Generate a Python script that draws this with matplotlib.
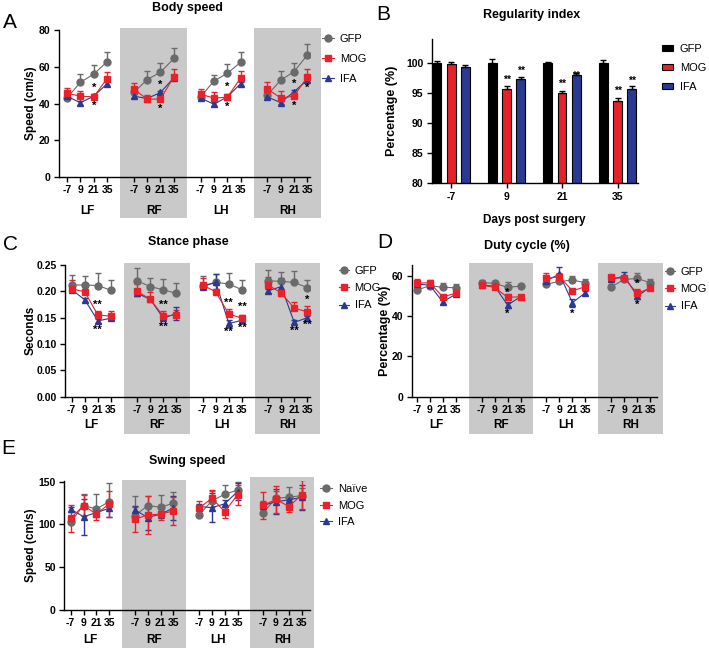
import matplotlib
matplotlib.use('Agg')
import matplotlib.pyplot as plt
from matplotlib.patches import Rectangle, Patch
from matplotlib.lines import Line2D
import matplotlib.transforms as mtransforms
import numpy as np

plt.rcParams['font.family'] = ['Liberation Sans', 'DejaVu Sans']

# ---------------- data ----------------
days = ['-7', '9', '21', '35']
limbs = ['LF', 'RF', 'LH', 'RH']
series_names = ['GFP', 'MOG', 'IFA']
series_names_E = ['Naïve', 'MOG', 'IFA']

# Panel A: body speed (cm/s), order LF, RF, LH, RH x days
A_gfp = [43, 51.5, 56, 62.7, 46, 53, 57, 64.5, 43.6, 52.2, 56.4, 62.4, 44.5, 52.7, 57.3, 66.4]
A_gfp_err = [2.5, 4.3, 4.7, 5.5, 3, 4.6, 5, 5.9, 2.5, 3.3, 4.9, 5.8, 3, 5.1, 4.7, 6]
A_mog = [45.5, 44, 43.6, 53.6, 47.8, 42.4, 42.4, 54.5, 45, 43, 43.4, 53.8, 48, 43, 44, 54.5]
A_mog_err = [3, 3, 1.5, 3.7, 3.2, 2, 2, 4.5, 3, 3.5, 1.5, 4, 3.5, 3.7, 2, 4.5]
A_ifa = [44, 40.4, 44, 50.7, 44, 42.7, 46, 54, 43, 39.6, 43.6, 50.7, 43.6, 40.5, 46.4, 52.7]
A_ifa_err = [1, 1, 1, 1, 1, 1, 1, 1.2, 1, 1, 1, 1, 1, 1, 1, 1]
A_star_x = [2, 2, 7, 7, 12, 12, 17, 17, 18]
A_star_y = [48.5, 38.5, 50.4, 37.3, 49, 38, 50.5, 38.5, 48.5]
A_star_t = ['*'] * 9

# Panel B: regularity index (%)
B_gfp = [100, 100, 100, 100]
B_gfp_err = [0.4, 0.8, 0.2, 0.5]
B_mog = [99.9, 95.7, 95.0, 93.8]
B_mog_err = [0.3, 0.5, 0.45, 0.5]
B_ifa = [99.4, 97.4, 98.1, 95.8]
B_ifa_err = [0.3, 0.35, 0.35, 0.35]
B_star_mog = [None, 97.2, 96.6, 95.4]
B_star_ifa = [None, 98.8, 97.9, 97.1]

# Panel C: stance phase (s)
C_gfp = [0.212, 0.212, 0.211, 0.202, 0.220, 0.209, 0.203, 0.196, 0.211, 0.217, 0.214, 0.203, 0.220, 0.219, 0.217, 0.207]
C_gfp_err = [0.019, 0.018, 0.024, 0.019, 0.024, 0.016, 0.020, 0.019, 0.018, 0.016, 0.021, 0.018, 0.020, 0.018, 0.022, 0.015]
C_mog = [0.205, 0.199, 0.155, 0.153, 0.200, 0.185, 0.153, 0.155, 0.212, 0.199, 0.157, 0.149, 0.212, 0.197, 0.168, 0.161]
C_mog_err = [0.017, 0.005, 0.008, 0.010, 0.014, 0.013, 0.009, 0.010, 0.014, 0.006, 0.010, 0.006, 0.016, 0.005, 0.012, 0.012]
C_ifa = [0.203, 0.184, 0.144, 0.149, 0.196, 0.185, 0.149, 0.158, 0.209, 0.217, 0.139, 0.145, 0.201, 0.209, 0.141, 0.150]
C_ifa_err = [0.004, 0.004, 0.004, 0.004, 0.004, 0.004, 0.004, 0.012, 0.004, 0.015, 0.006, 0.004, 0.004, 0.017, 0.005, 0.004]
C_star_x = [2, 2, 7, 7, 12, 12, 13, 13, 17, 18, 18]
C_star_y = [0.175, 0.127, 0.175, 0.132, 0.179, 0.123, 0.171, 0.130, 0.125, 0.184, 0.136]
C_star_t = ['**', '**', '**', '**', '**', '**', '**', '**', '**', '*', '**']

# Panel D: duty cycle (%)
D_gfp = [53, 55.2, 54.4, 54.2, 56.7, 56.4, 54.4, 55, 56, 57.3, 58, 56.7, 54.7, 58.3, 58.8, 56.7]
D_gfp_err = [1, 1, 2, 2, 1.3, 1, 2.6, 1.2, 1, 1, 2, 1.6, 1.2, 1.2, 2.5, 1.6]
D_mog = [56.4, 56.7, 49.7, 51.4, 55.5, 54.4, 49.4, 49.7, 58.8, 59.7, 52.7, 54.7, 59.3, 58.8, 51.4, 54]
D_mog_err = [1.9, 1.5, 1, 1.2, 1, 1, 1.5, 1, 2.5, 2, 0.8, 1.5, 1, 1, 2.1, 1]
D_ifa = [56, 55.5, 47.2, 50.9, 55.5, 55, 45.6, 49.7, 57.7, 61, 46.8, 51.7, 58.3, 60, 50, 54.4]
D_ifa_err = [1, 1, 1.2, 1, 1, 1, 1.3, 1, 1.5, 3.6, 2, 1, 1, 2, 1.5, 1]
D_star_x = [7, 7, 12, 17, 17]
D_star_y = [51.8, 41.4, 41.4, 56.2, 45.5]
D_star_t = ['*'] * 5

# Panel E: swing speed (cm/s)
E_gfp = [103, 122, 118, 126.6, 110, 122, 120, 124.7, 111, 127.4, 135.2, 140, 113.7, 130.5, 131.7, 133.6]
E_gfp_err = [5, 13, 18, 22, 23.6, 11.6, 14.4, 12.8, 5, 12, 11, 9, 14, 9, 11.7, 8.4]
E_mog = [107, 122, 112, 124, 106, 111, 112, 115.7, 118.8, 130.5, 115, 134.4, 122.3, 129.3, 120.8, 134.4]
E_mog_err = [15.5, 12, 7, 15, 14.5, 22, 7, 16.4, 8, 10, 8, 11.7, 16, 16, 6, 17]
E_ifa = [117.6, 109, 113.7, 118.8, 117, 108, 112, 119, 120.8, 119.6, 124, 138.3, 122, 126.6, 128.6, 131.7]
E_ifa_err = [3, 21, 5, 10, 5, 14.5, 4, 14, 3, 16.6, 4, 10, 4, 14.6, 4, 14.7]

# ---------------- style ----------------
GRAY = '#6a6a6a'
RED = '#e8212b'
BLUE = '#2b3990'
BAND = '#c9c9c9'

W, H = 709, 648
fig = plt.figure(figsize=(W / 100, H / 100), dpi=100)


def fx(px):
    return px / W


def fy(py):
    return 1 - py / H


def add_ax(left, top, right, bottom):
    ax = fig.add_axes([fx(left), fy(bottom), (right - left) / W, (bottom - top) / H])
    for s in ['top', 'right']:
        ax.spines[s].set_visible(False)
    for s in ['left', 'bottom']:
        ax.spines[s].set_linewidth(1.0)
    ax.tick_params(direction='out', length=3.6, width=1.0, pad=2.5,
                   labelsize=7.5)
    return ax


def set_ylabel_px(ax, text, px, left, right, fontsize=8.5):
    ax.set_ylabel(text, fontsize=fontsize, fontweight='bold')
    ax.yaxis.set_label_coords((px - left) / (right - left), 0.5)


def fig_text(px, py, s, **kw):
    fig.text(fx(px), fy(py), s, ha='center', va='center', **kw)


def line_panel(ax, data, xlim, ylim, yticks, yfmt, band_top, band_bot,
               group_y, errmode, stars, names, leg):
    xpos = np.array([5 * g + i for g in range(4) for i in range(4)], dtype=float)
    blend = mtransforms.blended_transform_factory(ax.transData, fig.transFigure)
    for g, (bt, bb) in zip([1, 3], zip(band_top, band_bot)):
        r = Rectangle((5 * g - 1, fy(bb)), 5, fy(bt) - fy(bb), transform=blend,
                      facecolor=BAND, edgecolor='none', zorder=0, clip_on=False)
        ax.add_patch(r)
    styles = [(GRAY, 'o', 5.0), (RED, 's', 5.0), (BLUE, '^', 4.3)]
    order = [0, 2, 1]
    for k in order:
        y, e = data[k]
        col, mk, ms = styles[k]
        y = np.array(y)
        e = np.array(e)
        lo = e if errmode[k] == 'both' else np.zeros_like(e)
        for g in range(4):
            sl = slice(4 * g, 4 * g + 4)
            ax.errorbar(xpos[sl], y[sl], yerr=[lo[sl], e[sl]], fmt='-', marker=mk,
                        color=col, ms=ms, lw=0.8, elinewidth=1.0, capsize=2.3,
                        capthick=1.0, zorder=3)
    sx, sy, st = stars
    for x, yv, t in zip(sx, sy, st):
        ax.text(x, yv, t, ha='center', va='center', fontsize=8, fontweight='bold',
                zorder=5)
    ax.set_xlim(*xlim)
    ax.set_ylim(*ylim)
    ax.set_xticks(xpos)
    ax.set_xticklabels(days * 4, fontweight='bold', fontsize=7.5)
    ax.set_yticks(yticks)
    ax.set_yticklabels([yfmt.format(v) for v in yticks], fontweight='bold', fontsize=7.5)
    for g in range(4):
        ax.text(5 * g + 1.5, fy(group_y), limbs[g], transform=blend, ha='center',
                va='center', fontsize=8.5, fontweight='bold', zorder=5)
    handles = [Line2D([], [], color=styles[k][0], marker=styles[k][1],
                      ms=styles[k][2], lw=0.8) for k in range(3)]
    lx, ly, hl, sp = leg
    ax.legend(handles, names, loc='upper left', bbox_to_anchor=(fx(lx), fy(ly)),
              bbox_transform=fig.transFigure, frameon=False, borderpad=0,
              borderaxespad=0, handlelength=hl, handletextpad=0.5,
              labelspacing=sp, fontsize=8, numpoints=1)


# ---------------- Panel A ----------------
axA = add_ax(59, 30, 310, 177)
line_panel(axA, [(A_gfp, A_gfp_err), (A_mog, A_mog_err), (A_ifa, A_ifa_err)],
           (-0.6, 18.2), (0, 80), [0, 20, 40, 60, 80], '{:g}', [28, 28], [218, 218],
           211, ['up', 'up', 'both'], (A_star_x, A_star_y, A_star_t), series_names,
           (322, 34, 1.1, 0.9))
set_ylabel_px(axA, 'Speed (cm/s)', 37, 59, 310)
fig_text(187, 8, 'Body speed', fontsize=9, fontweight='bold')
fig_text(10, 22, 'A', fontsize=15)

# ---------------- Panel B ----------------
axB = add_ax(431.7, 39.3, 637.5, 183.3)
xb = np.arange(4)
bw = 0.16
off = 0.255
for vals, errs, col, dx in [(B_gfp, B_gfp_err, 'black', -off), (B_mog, B_mog_err, RED, 0),
                            (B_ifa, B_ifa_err, BLUE, off)]:
    axB.bar(xb + dx, vals, width=bw, color=col, edgecolor='black', linewidth=0.8, zorder=2)
    axB.errorbar(xb + dx, vals, yerr=[np.zeros(4), errs], fmt='none', ecolor='black',
                 elinewidth=1.0, capsize=2.3, capthick=1.0, zorder=3)
for i in range(4):
    if B_star_mog[i] is not None:
        axB.text(i, B_star_mog[i], '**', ha='center', va='center', fontsize=7.5, fontweight='bold')
        axB.text(i + off, B_star_ifa[i], '**', ha='center', va='center', fontsize=7.5, fontweight='bold')
axB.set_xlim(-0.35, 3.36)
axB.set_ylim(80, 104)
axB.set_yticks([80, 85, 90, 95, 100])
axB.set_yticklabels(['80', '85', '90', '95', '100'], fontweight='bold', fontsize=7.5)
axB.set_xticks(xb)
axB.set_xticklabels(days, fontweight='bold', fontsize=7.5)
set_ylabel_px(axB, 'Percentage (%)', 398, 431.7, 637.5, fontsize=9)
axB.set_xlabel('Days post surgery', fontsize=8.5, fontweight='bold', labelpad=9)
bh = [Patch(facecolor=c, edgecolor='black', linewidth=0.8) for c in ['black', RED, BLUE]]
axB.legend(bh, series_names, loc='upper left', bbox_to_anchor=(fx(662), fy(44)),
           bbox_transform=fig.transFigure, frameon=False, borderpad=0, borderaxespad=0,
           handlelength=1.0, handleheight=0.55, handletextpad=0.6, labelspacing=0.8,
           fontsize=8)
fig_text(532, 15, 'Regularity index', fontsize=9, fontweight='bold')
fig_text(383, 15, 'B', fontsize=15)

# ---------------- Panel C ----------------
axC = add_ax(65, 265, 310, 396.7)
line_panel(axC, [(C_gfp, C_gfp_err), (C_mog, C_mog_err), (C_ifa, C_ifa_err)],
           (-0.51, 18.2), (0, 0.25), [0, 0.05, 0.10, 0.15, 0.20, 0.25], '{:.2f}',
           [262.7, 262.7], [434, 434], 425, ['up', 'up', 'both'],
           (C_star_x, C_star_y, C_star_t), series_names, (339, 266, 0.9, 0.65))
set_ylabel_px(axC, 'Seconds', 37, 65, 310)
fig_text(188, 242, 'Stance phase', fontsize=9, fontweight='bold')
fig_text(10, 244, 'C', fontsize=15)

# ---------------- Panel D ----------------
axD = add_ax(411.7, 265, 656.7, 396.7)
line_panel(axD, [(D_gfp, D_gfp_err), (D_mog, D_mog_err), (D_ifa, D_ifa_err)],
           (-0.39, 18.5), (0, 65.5), [0, 20, 40, 60], '{:g}',
           [263, 263], [434, 434], 425, ['up', 'up', 'both'],
           (D_star_x, D_star_y, D_star_t), series_names, (665, 267, 0.9, 0.65))
set_ylabel_px(axD, 'Percentage (%)', 391, 411.7, 656.7, fontsize=9)
fig_text(527, 246, 'Duty cycle (%)', fontsize=9, fontweight='bold')
fig_text(385, 243, 'D', fontsize=15)

# ---------------- Panel E ----------------
axE = add_ax(64.3, 480.7, 310, 610)
line_panel(axE, [(E_gfp, E_gfp_err), (E_mog, E_mog_err), (E_ifa, E_ifa_err)],
           (-0.5, 18.65), (0, 151), [0, 50, 100, 150], '{:g}',
           [480, 477], [648, 648], 640, ['up', 'both', 'both'],
           ([], [], []), series_names_E, (320, 484, 1.1, 0.6))
set_ylabel_px(axE, 'Speed (cm/s)', 37, 64.3, 310)
fig_text(187, 461, 'Swing speed', fontsize=9, fontweight='bold')
fig_text(8, 449, 'E', fontsize=15)

fig.savefig('out.png', dpi=100)
